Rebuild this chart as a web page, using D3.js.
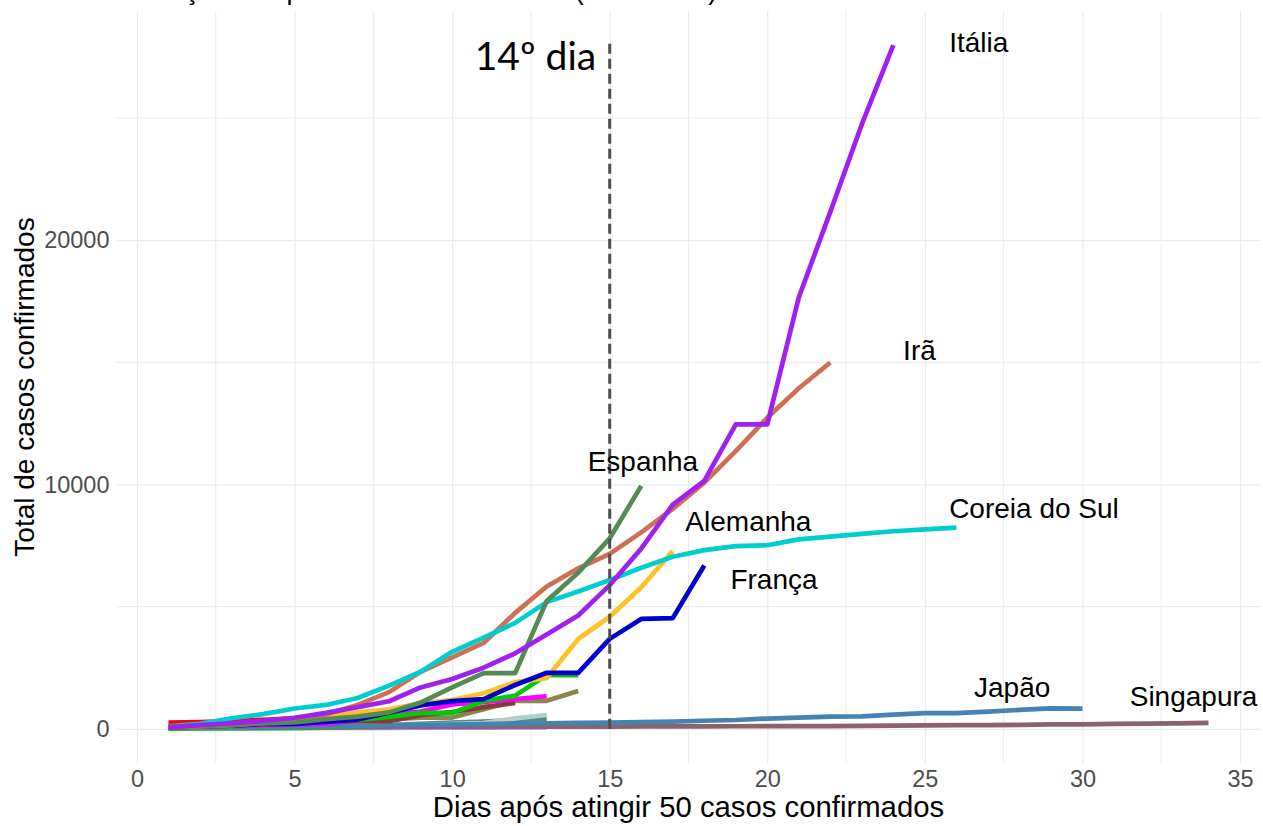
<!DOCTYPE html>
<html>
<head>
<meta charset="utf-8">
<script src="https://d3js.org/d3.v7.min.js"></script>
<style>
	body { margin: 0; background: #fff; }
	svg { display: block; }
</style>
</head>
<body>
<div id="vis"></div>
<script>

// total de casos confirmados, um valor por dia (dia 1 = primeiro dia com 50+ casos)
var italia = [62, 155, 229, 322, 453, 655, 888, 1128, 1694, 2036, 2502, 3089, 3858, 4636, 5883, 7375,
	9172, 10149, 12462, 12462, 17660, 21157, 24747, 27980];
var ira = [61, 95, 139, 245, 388, 593, 978, 1501, 2336, 2922, 3513, 4747, 5823, 6566, 7161, 8042,
	9000, 10075, 11364, 12729, 13938, 14991];
var coreia = [104, 204, 433, 602, 833, 977, 1261, 1766, 2337, 3150, 3736, 4335, 5186, 5621, 6088, 6593,
	7041, 7314, 7478, 7513, 7755, 7869, 7979, 8086, 8162, 8236];
var espanha = [84, 120, 165, 222, 259, 400, 500, 673, 1073, 1695, 2277, 2277, 5232, 6391, 7798, 9942];
var alemanha = [79, 130, 159, 196, 262, 482, 670, 799, 1040, 1176, 1457, 1908, 2078, 3675, 4585, 5795, 7272];
var franca = [57, 100, 130, 191, 204, 288, 380, 656, 959, 1136, 1219, 1794, 2293, 2293, 3681, 4496, 4532, 6683];
var japao = [59, 66, 74, 84, 94, 105, 122, 147, 159, 170, 189, 214, 228, 241, 256, 274, 293, 331, 360, 420,
	461, 502, 511, 581, 639, 639, 701, 773, 839, 825];
var singapura = [50, 58, 67, 72, 75, 77, 81, 84, 84, 85, 85, 89, 89, 91, 93, 96, 98, 102, 106, 108, 110, 112,
	117, 130, 138, 150, 150, 160, 178, 178, 200, 212, 226, 243];
var suica = [56, 90, 114, 214, 268, 337, 374, 491, 652, 652, 1139, 1359, 2200, 2200];
var noruega = [56, 87, 108, 147, 176, 205, 400, 598, 702, 996, 1090, 1221, 1333];
var reinoUnido = [51, 86, 116, 164, 207, 274, 322, 384, 459, 459, 802, 1144, 1145, 1551];
var belgica = [50, 109, 169, 200, 239, 267, 314, 314, 559, 689, 886, 1058];
var malasia = [50, 50, 83, 93, 99, 117, 129, 149, 149, 197, 238, 428, 566];
var bahrein = [55, 60, 70, 85, 95, 110, 130, 160, 200, 250, 300, 360, 420];
var vermelho = [250, 280, 320, 370, 430, 500, 580, 680];
var verdeBaixo = [10, 15, 20, 30, 40, 50, 65, 80, 110, 150];
var lilas = [20, 22, 25, 28, 30, 33, 36, 40, 44, 48, 52, 56, 60];

// ordem de desenho (de baixo para cima)
var paises = ['Lilás', 'Verde', 'Reino Unido', 'Vermelho', 'Bahrein', 'Malásia', 'Singapura', 'Japão',
	'Bélgica', 'Noruega', 'Suíça', 'Alemanha', 'França', 'Irã', 'Coreia do Sul', 'Espanha', 'Itália'];
var valores = [lilas, verdeBaixo, reinoUnido, vermelho, bahrein, malasia, singapura, japao,
	belgica, noruega, suica, alemanha, franca, ira, coreia, espanha, italia];

// rótulos: nome, dia e valor onde o texto começa
var rotulos = ['Itália', 'Irã', 'Espanha', 'Alemanha', 'Coreia do Sul', 'França', 'Japão', 'Singapura'];
var rotuloDia = [25.77, 24.31, 14.3, 17.4, 25.77, 18.83, 26.56, 31.5];
var rotuloValor = [27700, 15090, 10550, 8100, 8630, 5730, 1310, 940];

var xTicks = [0, 5, 10, 15, 20, 25, 30, 35];
var yTicks = [0, 10000, 20000];
var diaMarcado = 15;

function createChart(){

	var width = 1263;
	var height = 826;

	var cores = {
		'Itália': '#A020F0',
		'Irã': '#CD7054',
		'Coreia do Sul': '#00CDCD',
		'Espanha': '#548B54',
		'Alemanha': '#FFC125',
		'França': '#0000CD',
		'Japão': '#4682B4',
		'Singapura': '#8B636C',
		'Suíça': '#00CD00',
		'Noruega': '#FF00FF',
		'Reino Unido': '#8B864E',
		'Bélgica': '#8B3A3A',
		'Malásia': '#B4CDCD',
		'Bahrein': '#528B8B',
		'Vermelho': '#FF0000',
		'Verde': '#00CD00',
		'Lilás': '#AB82FF'
	};

	// escalas com a expansão de 5% do ggplot
	var x = d3.scaleLinear()
		.domain([-0.65, 35.65])
		.range([116.5, 1260.5]);

	var y = d3.scaleLinear()
		.domain([-1399, 29379])
		.range([763, 11]);

	var svg = d3.select('#vis')
		.append('svg')
		.attr('width', width)
		.attr('height', height)
		.style('font-family', 'Liberation Sans, Arial, sans-serif');

	// grade secundária
	var xMinor = d3.range(2.5, 35, 5);
	var yMinor = [5000, 15000, 25000];

	svg.append('g').selectAll('line')
		.data(xMinor)
		.enter().append('line')
		.attr('x1', d => x(d)).attr('x2', d => x(d))
		.attr('y1', y.range()[0]).attr('y2', y.range()[1])
		.attr('stroke', '#EBEBEB').attr('stroke-width', 1);

	svg.append('g').selectAll('line')
		.data(yMinor)
		.enter().append('line')
		.attr('x1', x.range()[0]).attr('x2', x.range()[1])
		.attr('y1', d => y(d)).attr('y2', d => y(d))
		.attr('stroke', '#EBEBEB').attr('stroke-width', 1);

	// grade principal via eixos
	var xAxis = svg.append('g')
		.attr('transform', 'translate(0,' + y.range()[0] + ')')
		.call(d3.axisBottom(x).tickValues(xTicks).tickSize(-(y.range()[0] - y.range()[1])).tickPadding(7));

	var yAxis = svg.append('g')
		.attr('transform', 'translate(' + x.range()[0] + ',0)')
		.call(d3.axisLeft(y).tickValues(yTicks).tickFormat(d3.format('d'))
			.tickSize(-(x.range()[1] - x.range()[0])).tickPadding(7));

	[xAxis, yAxis].forEach(function(ax) {
		ax.select('.domain').remove();
		ax.selectAll('.tick line').attr('stroke', '#EBEBEB').attr('stroke-width', 1.2);
		ax.selectAll('.tick text')
			.attr('fill', '#4D4D4D')
			.style('font-size', '23.5px')
			.style('font-family', 'Liberation Sans, Arial, sans-serif');
	});

	// linhas dos países
	var line = d3.line()
		.x((d, i) => x(i + 1))
		.y(d => y(d));

	svg.append('g').selectAll('path')
		.data(paises)
		.enter().append('path')
		.attr('d', (d, i) => line(valores[i]))
		.attr('fill', 'none')
		.attr('stroke', d => cores[d])
		.attr('stroke-width', 4.7)
		.attr('stroke-linejoin', 'round');

	// linha tracejada do 14º dia
	svg.append('line')
		.attr('x1', x(diaMarcado)).attr('x2', x(diaMarcado))
		.attr('y1', y(0)).attr('y2', y(28200))
		.attr('stroke', '#4D4D4D')
		.attr('stroke-width', 3)
		.attr('stroke-dasharray', '10,5');

	svg.append('text')
		.attr('x', x(14.57))
		.attr('y', y(26950))
		.attr('text-anchor', 'end')
		.style('font-family', 'Lato, sans-serif')
		.style('font-size', '39px')
		.attr('fill', '#000')
		.text('14º dia');

	// nomes dos países
	svg.append('g').selectAll('text')
		.data(rotulos)
		.enter().append('text')
		.attr('x', (d, i) => x(rotuloDia[i]))
		.attr('y', (d, i) => y(rotuloValor[i]))
		.style('font-size', '28px')
		.attr('fill', '#000')
		.text(d => d);

	// títulos
	svg.append('text')
		.attr('x', (x.range()[0] + x.range()[1]) / 2)
		.attr('y', 817)
		.attr('text-anchor', 'middle')
		.style('font-size', '29.3px')
		.text('Dias após atingir 50 casos confirmados');

	svg.append('text')
		.attr('transform', 'translate(34,' + ((y.range()[0] + y.range()[1]) / 2) + ') rotate(-90)')
		.attr('text-anchor', 'middle')
		.style('font-size', '28px')
		.text('Total de casos confirmados');

	// título do gráfico, cortado no topo da imagem
	svg.append('text')
		.attr('x', 117)
		.attr('y', -1)
		.style('font-size', '27px')
		.text('Evolução dos países com mais casos (COVID-19)');
}

createChart();

</script>
</body>
</html>
